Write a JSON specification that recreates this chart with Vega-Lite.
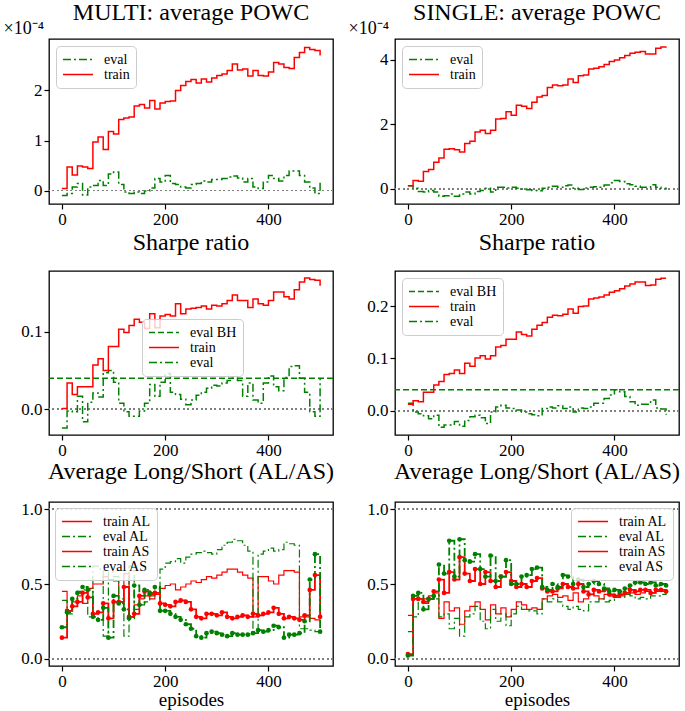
{
"$schema":"https://vega.github.io/schema/vega-lite/v6.json",
"background":"white",
"padding":{"left":2,"top":0,"right":5,"bottom":0},
"bounds":"flush",
"columns":2,
"spacing":{"row":67,"column":62},
"resolve":{"scale":{"color":"independent","strokeDash":"independent"},"legend":{"color":"independent","strokeDash":"independent"}},
"config":{
 "font":"Liberation Serif",
 "view":{"stroke":"#000","strokeWidth":1.3},
 "axis":{"domain":false,"grid":false,"tickColor":"#000","tickWidth":1.2,"tickSize":5,"labelFont":"Liberation Serif","labelFontSize":17,"labelColor":"#000","titleFont":"Liberation Serif","titleFontSize":19,"titleFontWeight":"normal","titleColor":"#000"},
 "axisX":{"labelPadding":2,"labelFlush":false,"titlePadding":1},
 "axisY":{"labelPadding":2},
 "title":{"font":"Liberation Serif","fontSize":24,"fontWeight":"normal","color":"#000","baseline":"alphabetic","offset":16,"frame":"group"},
 "legend":{"labelFont":"Liberation Serif","labelFontSize":14,"labelColor":"#000","symbolType":"stroke","symbolSize":900,"clipHeight":15,"symbolStrokeWidth":1.5,"rowPadding":0,"labelOffset":10,"padding":6,"fillColor":"rgba(255,255,255,0.8)","strokeColor":"#cccccc","cornerRadius":4,"offset":7}
},
"concat":[
{"width":284,"height":165,"title":{"text":"MULTI: average POWC","offset":-6},
"data":{"values":[
{"x":0,"train":0.04e-4,"eval":-0.10e-4},{"x":10,"train":0.47e-4,"eval":-0.06e-4},{"x":20,"train":0.31e-4,"eval":0.07e-4},{"x":30,"train":0.49e-4,"eval":0.14e-4},{"x":40,"train":0.47e-4,"eval":-0.09e-4},{"x":50,"train":0.44e-4,"eval":0.07e-4},{"x":60,"train":0.97e-4,"eval":0.10e-4},{"x":70,"train":1.07e-4,"eval":0.20e-4},{"x":80,"train":0.82e-4,"eval":0.10e-4},{"x":90,"train":1.18e-4,"eval":0.33e-4},{"x":100,"train":1.13e-4,"eval":0.37e-4},{"x":110,"train":1.42e-4,"eval":0.12e-4},{"x":120,"train":1.45e-4,"eval":-0.03e-4},{"x":130,"train":1.47e-4,"eval":-0.06e-4},{"x":140,"train":1.69e-4,"eval":-0.03e-4},{"x":150,"train":1.72e-4,"eval":-0.06e-4},{"x":160,"train":1.65e-4,"eval":-0.01e-4},{"x":170,"train":1.80e-4,"eval":0.05e-4},{"x":180,"train":1.63e-4,"eval":0.24e-4},{"x":190,"train":1.75e-4,"eval":0.17e-4},{"x":200,"train":1.78e-4,"eval":0.30e-4},{"x":210,"train":1.79e-4,"eval":0.14e-4},{"x":220,"train":2.00e-4,"eval":0.12e-4},{"x":230,"train":2.10e-4,"eval":0.07e-4},{"x":240,"train":2.18e-4,"eval":0.05e-4},{"x":250,"train":2.22e-4,"eval":0.12e-4},{"x":260,"train":2.15e-4,"eval":0.14e-4},{"x":270,"train":2.23e-4,"eval":0.19e-4},{"x":280,"train":2.17e-4,"eval":0.17e-4},{"x":290,"train":2.25e-4,"eval":0.22e-4},{"x":300,"train":2.30e-4,"eval":0.22e-4},{"x":310,"train":2.33e-4,"eval":0.24e-4},{"x":320,"train":2.40e-4,"eval":0.27e-4},{"x":330,"train":2.53e-4,"eval":0.29e-4},{"x":340,"train":2.41e-4,"eval":0.25e-4},{"x":350,"train":2.43e-4,"eval":0.17e-4},{"x":360,"train":2.29e-4,"eval":0.24e-4},{"x":370,"train":2.40e-4,"eval":0.07e-4},{"x":380,"train":2.30e-4,"eval":0.04e-4},{"x":390,"train":2.29e-4,"eval":0.17e-4},{"x":400,"train":2.37e-4,"eval":0.30e-4},{"x":410,"train":2.56e-4,"eval":0.24e-4},{"x":420,"train":2.53e-4,"eval":0.19e-4},{"x":430,"train":2.46e-4,"eval":0.30e-4},{"x":440,"train":2.44e-4,"eval":0.39e-4},{"x":450,"train":2.66e-4,"eval":0.39e-4},{"x":460,"train":2.76e-4,"eval":0.30e-4},{"x":470,"train":2.86e-4,"eval":0.17e-4},{"x":480,"train":2.82e-4,"eval":0.05e-4},{"x":490,"train":2.80e-4,"eval":-0.06e-4},{"x":500,"train":2.70e-4,"eval":0.17e-4}
]},
"layer":[
{"mark":{"type":"rule","color":"#808080","strokeDash":[1.5,3],"strokeWidth":1.2},"encoding":{"y":{"datum":0}}},
{"transform":[{"fold":["eval","train"],"as":["s","y"]}],
"mark":{"type":"line","interpolate":"step-after","strokeWidth":1.5},
"encoding":{
"x":{"field":"x","type":"quantitative","scale":{"domain":[-25,525],"nice":false,"zero":false},"axis":{"values":[0,200,400],"title":null}},
"y":{"field":"y","type":"quantitative","scale":{"domain":[-0.27e-4,3.03e-4],"nice":false,"zero":false},"axis":{"values":[0,1e-4,2e-4],"labelExpr":"round(datum.value*10000)","title":"×10⁻⁴","titleAngle":0,"titleAlign":"left","titleBaseline":"alphabetic","titleX":-46,"titleY":-6,"titleFontSize":18}},
"color":{"field":"s","type":"nominal","scale":{"domain":["eval","train"],"range":["#008000","#ff0000"]},"legend":{"orient":"top-left","title":null}},
"strokeDash":{"field":"s","type":"nominal","scale":{"domain":["eval","train"],"range":[[8,3,2,3],[1,0]]},"legend":{"orient":"top-left","title":null}}
}}
]},
{"width":284,"height":165,"title":{"text":"SINGLE: average POWC","offset":-6},
"data":{"values":[
{"x":0,"train":0.09e-4,"eval":0.09e-4},{"x":10,"train":0.25e-4,"eval":0.01e-4},{"x":20,"train":0.23e-4,"eval":-0.09e-4},{"x":30,"train":0.53e-4,"eval":-0.11e-4},{"x":40,"train":0.59e-4,"eval":-0.06e-4},{"x":50,"train":0.82e-4,"eval":-0.11e-4},{"x":60,"train":0.95e-4,"eval":-0.24e-4},{"x":70,"train":1.22e-4,"eval":-0.22e-4},{"x":80,"train":1.24e-4,"eval":-0.17e-4},{"x":90,"train":1.21e-4,"eval":-0.24e-4},{"x":100,"train":1.14e-4,"eval":-0.17e-4},{"x":110,"train":1.40e-4,"eval":-0.11e-4},{"x":120,"train":1.47e-4,"eval":-0.17e-4},{"x":130,"train":1.76e-4,"eval":-0.09e-4},{"x":140,"train":1.81e-4,"eval":-0.06e-4},{"x":150,"train":1.71e-4,"eval":0.01e-4},{"x":160,"train":1.81e-4,"eval":-0.11e-4},{"x":170,"train":2.16e-4,"eval":0.04e-4},{"x":180,"train":2.18e-4,"eval":0.04e-4},{"x":190,"train":2.39e-4,"eval":0.02e-4},{"x":200,"train":2.28e-4,"eval":0.04e-4},{"x":210,"train":2.59e-4,"eval":0.01e-4},{"x":220,"train":2.56e-4,"eval":-0.01e-4},{"x":230,"train":2.49e-4,"eval":-0.04e-4},{"x":240,"train":2.68e-4,"eval":-0.06e-4},{"x":250,"train":2.85e-4,"eval":-0.07e-4},{"x":260,"train":2.89e-4,"eval":0.01e-4},{"x":270,"train":3.14e-4,"eval":0.04e-4},{"x":280,"train":3.22e-4,"eval":0.07e-4},{"x":290,"train":3.20e-4,"eval":0.04e-4},{"x":300,"train":3.22e-4,"eval":0.09e-4},{"x":310,"train":3.41e-4,"eval":0.11e-4},{"x":320,"train":3.30e-4,"eval":0.01e-4},{"x":330,"train":3.51e-4,"eval":-0.03e-4},{"x":340,"train":3.53e-4,"eval":0.02e-4},{"x":350,"train":3.72e-4,"eval":0.04e-4},{"x":360,"train":3.74e-4,"eval":0.06e-4},{"x":370,"train":3.79e-4,"eval":0.04e-4},{"x":380,"train":3.86e-4,"eval":0.11e-4},{"x":390,"train":3.95e-4,"eval":0.18e-4},{"x":400,"train":4.00e-4,"eval":0.25e-4},{"x":410,"train":4.07e-4,"eval":0.22e-4},{"x":420,"train":4.14e-4,"eval":0.15e-4},{"x":430,"train":4.21e-4,"eval":0.12e-4},{"x":440,"train":4.24e-4,"eval":0.07e-4},{"x":450,"train":4.26e-4,"eval":0.04e-4},{"x":460,"train":4.18e-4,"eval":0.04e-4},{"x":470,"train":4.18e-4,"eval":0.12e-4},{"x":480,"train":4.36e-4,"eval":0.04e-4},{"x":490,"train":4.40e-4,"eval":0.01e-4},{"x":500,"train":4.42e-4,"eval":-0.03e-4}
]},
"layer":[
{"mark":{"type":"rule","color":"#808080","strokeDash":[1.5,3],"strokeWidth":1.2},"encoding":{"y":{"datum":0}}},
{"transform":[{"fold":["eval","train"],"as":["s","y"]}],
"mark":{"type":"line","interpolate":"step-after","strokeWidth":1.5},
"encoding":{
"x":{"field":"x","type":"quantitative","scale":{"domain":[-25,525],"nice":false,"zero":false},"axis":{"values":[0,200,400],"title":null}},
"y":{"field":"y","type":"quantitative","scale":{"domain":[-0.48e-4,4.65e-4],"nice":false,"zero":false},"axis":{"values":[0,2e-4,4e-4],"labelExpr":"round(datum.value*10000)","title":"×10⁻⁴","titleAngle":0,"titleAlign":"left","titleBaseline":"alphabetic","titleX":-47,"titleY":-6,"titleFontSize":18}},
"color":{"field":"s","type":"nominal","scale":{"domain":["eval","train"],"range":["#008000","#ff0000"]},"legend":{"orient":"top-left","title":null}},
"strokeDash":{"field":"s","type":"nominal","scale":{"domain":["eval","train"],"range":[[8,3,2,3],[1,0]]},"legend":{"orient":"top-left","title":null}}
}}
]},
{"width":284,"height":164,"title":"Sharpe ratio",
"data":{"values":[
{"x":0,"train":0.001,"eval":-0.024},{"x":10,"train":0.034,"eval":-0.002},{"x":20,"train":0.019,"eval":-0.003},{"x":30,"train":0.029,"eval":0.017},{"x":40,"train":0.029,"eval":-0.016},{"x":50,"train":0.029,"eval":0.009},{"x":60,"train":0.057,"eval":0.021},{"x":70,"train":0.065,"eval":0.016},{"x":80,"train":0.050,"eval":0.047},{"x":90,"train":0.081,"eval":0.050},{"x":100,"train":0.081,"eval":0.035},{"x":110,"train":0.103,"eval":0.008},{"x":120,"train":0.099,"eval":-0.003},{"x":130,"train":0.108,"eval":-0.009},{"x":140,"train":0.116,"eval":-0.009},{"x":150,"train":0.112,"eval":-0.002},{"x":160,"train":0.104,"eval":0.008},{"x":170,"train":0.123,"eval":0.032},{"x":180,"train":0.105,"eval":0.017},{"x":190,"train":0.120,"eval":0.035},{"x":200,"train":0.122,"eval":0.046},{"x":210,"train":0.120,"eval":0.022},{"x":220,"train":0.136,"eval":0.019},{"x":230,"train":0.123,"eval":0.013},{"x":240,"train":0.129,"eval":0.006},{"x":250,"train":0.130,"eval":0.012},{"x":260,"train":0.131,"eval":0.018},{"x":270,"train":0.133,"eval":0.022},{"x":280,"train":0.129,"eval":0.027},{"x":290,"train":0.134,"eval":0.031},{"x":300,"train":0.133,"eval":0.030},{"x":310,"train":0.136,"eval":0.034},{"x":320,"train":0.140,"eval":0.037},{"x":330,"train":0.147,"eval":0.040},{"x":340,"train":0.140,"eval":0.037},{"x":350,"train":0.140,"eval":0.017},{"x":360,"train":0.131,"eval":0.034},{"x":370,"train":0.142,"eval":0.012},{"x":380,"train":0.136,"eval":0.008},{"x":390,"train":0.134,"eval":0.034},{"x":400,"train":0.140,"eval":0.043},{"x":410,"train":0.151,"eval":0.029},{"x":420,"train":0.151,"eval":0.024},{"x":430,"train":0.145,"eval":0.041},{"x":440,"train":0.142,"eval":0.055},{"x":450,"train":0.154,"eval":0.056},{"x":460,"train":0.164,"eval":0.040},{"x":470,"train":0.169,"eval":0.022},{"x":480,"train":0.167,"eval":-0.003},{"x":490,"train":0.166,"eval":-0.009},{"x":500,"train":0.159,"eval":0.039}
]},
"layer":[
{"mark":{"type":"rule","color":"#808080","strokeDash":[1.5,3],"strokeWidth":1.2},"encoding":{"y":{"datum":0}}},
{"data":{"values":[{"s":"eval BH","y":0.040}]},"mark":{"type":"rule","strokeWidth":1.5},"encoding":{"y":{"field":"y","type":"quantitative"},"color":{"field":"s","type":"nominal"},"strokeDash":{"field":"s","type":"nominal"}}},
{"transform":[{"fold":["eval","train"],"as":["s","y"]}],
"mark":{"type":"line","interpolate":"step-after","strokeWidth":1.5},
"encoding":{
"x":{"field":"x","type":"quantitative","scale":{"domain":[-25,525],"nice":false,"zero":false},"axis":{"values":[0,200,400],"title":null}},
"y":{"field":"y","type":"quantitative","scale":{"domain":[-0.033,0.178],"nice":false,"zero":false},"axis":{"values":[0,0.1],"format":".1f","title":null}},
"color":{"field":"s","type":"nominal","scale":{"domain":["eval BH","train","eval"],"range":["#008000","#ff0000","#008000"]},"legend":{"orient":"none","legendX":93,"legendY":48,"title":null}},
"strokeDash":{"field":"s","type":"nominal","scale":{"domain":["eval BH","train","eval"],"range":[[6,3],[1,0],[8,3,2,3]]},"legend":{"orient":"none","legendX":93,"legendY":48,"title":null}}
}}
]},
{"width":284,"height":164,"title":"Sharpe ratio",
"data":{"values":[
{"x":0,"train":0.012,"eval":0.014},{"x":10,"train":0.019,"eval":-0.003},{"x":20,"train":0.017,"eval":-0.006},{"x":30,"train":0.035,"eval":-0.010},{"x":40,"train":0.035,"eval":-0.016},{"x":50,"train":0.049,"eval":-0.009},{"x":60,"train":0.056,"eval":-0.032},{"x":70,"train":0.069,"eval":-0.028},{"x":80,"train":0.071,"eval":-0.028},{"x":90,"train":0.078,"eval":-0.021},{"x":100,"train":0.071,"eval":-0.030},{"x":110,"train":0.091,"eval":-0.019},{"x":120,"train":0.085,"eval":-0.012},{"x":130,"train":0.101,"eval":-0.009},{"x":140,"train":0.105,"eval":-0.014},{"x":150,"train":0.099,"eval":-0.025},{"x":160,"train":0.105,"eval":-0.003},{"x":170,"train":0.122,"eval":0.007},{"x":180,"train":0.125,"eval":0.010},{"x":190,"train":0.137,"eval":0.005},{"x":200,"train":0.137,"eval":0.004},{"x":210,"train":0.151,"eval":0.001},{"x":220,"train":0.146,"eval":-0.003},{"x":230,"train":0.143,"eval":-0.006},{"x":240,"train":0.156,"eval":-0.008},{"x":250,"train":0.164,"eval":-0.010},{"x":260,"train":0.169,"eval":0.004},{"x":270,"train":0.179,"eval":0.007},{"x":280,"train":0.183,"eval":0.005},{"x":290,"train":0.182,"eval":0.009},{"x":300,"train":0.185,"eval":0.004},{"x":310,"train":0.195,"eval":0.007},{"x":320,"train":0.187,"eval":-0.003},{"x":330,"train":0.200,"eval":0.005},{"x":340,"train":0.201,"eval":0.004},{"x":350,"train":0.214,"eval":0.007},{"x":360,"train":0.216,"eval":0.014},{"x":370,"train":0.218,"eval":0.014},{"x":380,"train":0.222,"eval":0.023},{"x":390,"train":0.227,"eval":0.030},{"x":400,"train":0.230,"eval":0.040},{"x":410,"train":0.234,"eval":0.036},{"x":420,"train":0.239,"eval":0.027},{"x":430,"train":0.243,"eval":0.017},{"x":440,"train":0.247,"eval":0.010},{"x":450,"train":0.247,"eval":0.012},{"x":460,"train":0.240,"eval":0.012},{"x":470,"train":0.241,"eval":0.020},{"x":480,"train":0.252,"eval":0.005},{"x":490,"train":0.254,"eval":0.003},{"x":500,"train":0.254,"eval":-0.008}
]},
"layer":[
{"mark":{"type":"rule","color":"#808080","strokeDash":[1.5,3],"strokeWidth":1.2},"encoding":{"y":{"datum":0}}},
{"data":{"values":[{"s":"eval BH","y":0.040}]},"mark":{"type":"rule","strokeWidth":1.5},"encoding":{"y":{"field":"y","type":"quantitative"},"color":{"field":"s","type":"nominal"},"strokeDash":{"field":"s","type":"nominal"}}},
{"transform":[{"fold":["eval","train"],"as":["s","y"]}],
"mark":{"type":"line","interpolate":"step-after","strokeWidth":1.5},
"encoding":{
"x":{"field":"x","type":"quantitative","scale":{"domain":[-25,525],"nice":false,"zero":false},"axis":{"values":[0,200,400],"title":null}},
"y":{"field":"y","type":"quantitative","scale":{"domain":[-0.047,0.268],"nice":false,"zero":false},"axis":{"values":[0,0.1,0.2],"format":".1f","title":null}},
"color":{"field":"s","type":"nominal","scale":{"domain":["eval BH","train","eval"],"range":["#008000","#ff0000","#008000"]},"legend":{"orient":"top-left","title":null}},
"strokeDash":{"field":"s","type":"nominal","scale":{"domain":["eval BH","train","eval"],"range":[[6,3],[1,0],[8,3,2,3]]},"legend":{"orient":"top-left","title":null}}
}}
]},
{"width":284,"height":164,"title":"Average Long/Short (AL/AS)",
"data":{"values":[
{"x":0,"train AL":0.45,"eval AL":0.39,"train AS":0.14,"eval AS":0.21},{"x":10,"train AL":0.32,"eval AL":0.30,"train AS":0.32,"eval AS":0.31},{"x":20,"train AL":0.38,"eval AL":0.40,"train AS":0.35,"eval AS":0.40},{"x":30,"train AL":0.42,"eval AL":0.45,"train AS":0.38,"eval AS":0.44},{"x":40,"train AL":0.37,"eval AL":0.46,"train AS":0.44,"eval AS":0.48},{"x":50,"train AL":0.47,"eval AL":0.28,"train AS":0.41,"eval AS":0.46},{"x":60,"train AL":0.50,"eval AL":0.62,"train AS":0.30,"eval AS":0.28},{"x":70,"train AL":0.50,"eval AL":0.60,"train AS":0.31,"eval AS":0.26},{"x":80,"train AL":0.55,"eval AL":0.15,"train AS":0.37,"eval AS":0.34},{"x":90,"train AL":0.53,"eval AL":0.58,"train AS":0.27,"eval AS":0.14},{"x":100,"train AL":0.52,"eval AL":0.55,"train AS":0.38,"eval AS":0.42},{"x":110,"train AL":0.38,"eval AL":0.40,"train AS":0.38,"eval AS":0.37},{"x":120,"train AL":0.57,"eval AL":0.15,"train AS":0.48,"eval AS":0.33},{"x":130,"train AL":0.28,"eval AL":0.62,"train AS":0.28,"eval AS":0.27},{"x":140,"train AL":0.36,"eval AL":0.33,"train AS":0.30,"eval AS":0.49},{"x":150,"train AL":0.40,"eval AL":0.36,"train AS":0.42,"eval AS":0.36},{"x":160,"train AL":0.42,"eval AL":0.38,"train AS":0.45,"eval AS":0.46},{"x":170,"train AL":0.40,"eval AL":0.42,"train AS":0.43,"eval AS":0.44},{"x":180,"train AL":0.43,"eval AL":0.47,"train AS":0.44,"eval AS":0.48},{"x":190,"train AL":0.47,"eval AL":0.60,"train AS":0.37,"eval AS":0.32},{"x":200,"train AL":0.49,"eval AL":0.64,"train AS":0.36,"eval AS":0.32},{"x":210,"train AL":0.50,"eval AL":0.65,"train AS":0.35,"eval AS":0.30},{"x":220,"train AL":0.46,"eval AL":0.67,"train AS":0.38,"eval AS":0.28},{"x":230,"train AL":0.48,"eval AL":0.64,"train AS":0.39,"eval AS":0.26},{"x":240,"train AL":0.50,"eval AL":0.68,"train AS":0.38,"eval AS":0.23},{"x":250,"train AL":0.52,"eval AL":0.70,"train AS":0.33,"eval AS":0.20},{"x":260,"train AL":0.51,"eval AL":0.71,"train AS":0.28,"eval AS":0.15},{"x":270,"train AL":0.53,"eval AL":0.72,"train AS":0.27,"eval AS":0.14},{"x":280,"train AL":0.55,"eval AL":0.71,"train AS":0.30,"eval AS":0.17},{"x":290,"train AL":0.54,"eval AL":0.70,"train AS":0.30,"eval AS":0.18},{"x":300,"train AL":0.56,"eval AL":0.73,"train AS":0.29,"eval AS":0.17},{"x":310,"train AL":0.58,"eval AL":0.76,"train AS":0.31,"eval AS":0.16},{"x":320,"train AL":0.60,"eval AL":0.78,"train AS":0.28,"eval AS":0.15},{"x":330,"train AL":0.60,"eval AL":0.80,"train AS":0.27,"eval AS":0.17},{"x":340,"train AL":0.58,"eval AL":0.79,"train AS":0.28,"eval AS":0.16},{"x":350,"train AL":0.56,"eval AL":0.76,"train AS":0.29,"eval AS":0.16},{"x":360,"train AL":0.54,"eval AL":0.72,"train AS":0.28,"eval AS":0.16},{"x":370,"train AL":0.28,"eval AL":0.18,"train AS":0.30,"eval AS":0.17},{"x":380,"train AL":0.55,"eval AL":0.70,"train AS":0.29,"eval AS":0.19},{"x":390,"train AL":0.55,"eval AL":0.72,"train AS":0.30,"eval AS":0.18},{"x":400,"train AL":0.52,"eval AL":0.74,"train AS":0.31,"eval AS":0.19},{"x":410,"train AL":0.50,"eval AL":0.72,"train AS":0.34,"eval AS":0.22},{"x":420,"train AL":0.56,"eval AL":0.73,"train AS":0.30,"eval AS":0.21},{"x":430,"train AL":0.59,"eval AL":0.78,"train AS":0.27,"eval AS":0.14},{"x":440,"train AL":0.59,"eval AL":0.77,"train AS":0.28,"eval AS":0.16},{"x":450,"train AL":0.58,"eval AL":0.76,"train AS":0.27,"eval AS":0.16},{"x":460,"train AL":0.28,"eval AL":0.20,"train AS":0.26,"eval AS":0.17},{"x":470,"train AL":0.28,"eval AL":0.20,"train AS":0.29,"eval AS":0.25},{"x":480,"train AL":0.27,"eval AL":0.19,"train AS":0.46,"eval AS":0.53},{"x":490,"train AL":0.26,"eval AL":0.18,"train AS":0.56,"eval AS":0.70},{"x":500,"train AL":0.25,"eval AL":0.17,"train AS":0.28,"eval AS":0.18}
]},
"layer":[
{"mark":{"type":"rule","color":"#808080","strokeDash":[1.5,3],"strokeWidth":1.2},"encoding":{"y":{"datum":0}}},
{"mark":{"type":"rule","color":"#808080","strokeDash":[1.5,3],"strokeWidth":1.2},"encoding":{"y":{"datum":1}}},
{"transform":[{"fold":["train AL","eval AL"],"as":["s","y"]}],
"mark":{"type":"line","interpolate":"step-after","strokeWidth":1.2},
"encoding":{
"x":{"field":"x","type":"quantitative","scale":{"domain":[-25,525],"nice":false,"zero":false},"axis":{"values":[0,200,400],"title":"episodes"}},
"y":{"field":"y","type":"quantitative","scale":{"domain":[-0.05,1.05],"nice":false,"zero":false},"axis":{"values":[0,0.5,1],"format":".1f","title":null}},
"color":{"field":"s","type":"nominal","scale":{"domain":["train AL","eval AL","train AS","eval AS"],"range":["#ff0000","#008000","#ff0000","#008000"]},"legend":{"orient":"top-left","offset":6,"title":null}},
"strokeDash":{"field":"s","type":"nominal","scale":{"domain":["train AL","eval AL","train AS","eval AS"],"range":[[1,0],[8,3,2,3],[1,0],[8,3,2,3]]},"legend":{"orient":"top-left","offset":6,"title":null}}
}},
{"transform":[{"fold":["train AS","eval AS"],"as":["s","y"]}],
"mark":{"type":"line","interpolate":"step-after","strokeWidth":1.8,"point":{"filled":true,"size":22}},
"encoding":{
"x":{"field":"x","type":"quantitative"},
"y":{"field":"y","type":"quantitative"},
"color":{"field":"s","type":"nominal"},
"strokeDash":{"field":"s","type":"nominal"}
}}
]},
{"width":284,"height":164,"title":"Average Long/Short (AL/AS)",
"data":{"values":[
{"x":0,"train AL":0.29,"eval AL":0.18,"train AS":0.03,"eval AS":0.02},{"x":10,"train AL":0.40,"eval AL":0.28,"train AS":0.40,"eval AS":0.42},{"x":20,"train AL":0.40,"eval AL":0.38,"train AS":0.40,"eval AS":0.44},{"x":30,"train AL":0.40,"eval AL":0.37,"train AS":0.38,"eval AS":0.33},{"x":40,"train AL":0.42,"eval AL":0.40,"train AS":0.40,"eval AS":0.40},{"x":50,"train AL":0.44,"eval AL":0.40,"train AS":0.45,"eval AS":0.42},{"x":60,"train AL":0.27,"eval AL":0.28,"train AS":0.53,"eval AS":0.63},{"x":70,"train AL":0.38,"eval AL":0.30,"train AS":0.44,"eval AS":0.57},{"x":80,"train AL":0.32,"eval AL":0.20,"train AS":0.58,"eval AS":0.79},{"x":90,"train AL":0.34,"eval AL":0.27,"train AS":0.53,"eval AS":0.55},{"x":100,"train AL":0.23,"eval AL":0.15,"train AS":0.68,"eval AS":0.80},{"x":110,"train AL":0.32,"eval AL":0.28,"train AS":0.57,"eval AS":0.66},{"x":120,"train AL":0.35,"eval AL":0.30,"train AS":0.52,"eval AS":0.65},{"x":130,"train AL":0.38,"eval AL":0.35,"train AS":0.60,"eval AS":0.70},{"x":140,"train AL":0.33,"eval AL":0.25,"train AS":0.50,"eval AS":0.60},{"x":150,"train AL":0.26,"eval AL":0.20,"train AS":0.58,"eval AS":0.55},{"x":160,"train AL":0.36,"eval AL":0.33,"train AS":0.52,"eval AS":0.69},{"x":170,"train AL":0.30,"eval AL":0.25,"train AS":0.48,"eval AS":0.52},{"x":180,"train AL":0.34,"eval AL":0.30,"train AS":0.55,"eval AS":0.55},{"x":190,"train AL":0.28,"eval AL":0.22,"train AS":0.58,"eval AS":0.66},{"x":200,"train AL":0.33,"eval AL":0.30,"train AS":0.52,"eval AS":0.50},{"x":210,"train AL":0.38,"eval AL":0.35,"train AS":0.48,"eval AS":0.50},{"x":220,"train AL":0.36,"eval AL":0.33,"train AS":0.50,"eval AS":0.55},{"x":230,"train AL":0.33,"eval AL":0.32,"train AS":0.48,"eval AS":0.56},{"x":240,"train AL":0.34,"eval AL":0.32,"train AS":0.52,"eval AS":0.60},{"x":250,"train AL":0.33,"eval AL":0.30,"train AS":0.54,"eval AS":0.61},{"x":260,"train AL":0.40,"eval AL":0.40,"train AS":0.47,"eval AS":0.48},{"x":270,"train AL":0.42,"eval AL":0.38,"train AS":0.45,"eval AS":0.46},{"x":280,"train AL":0.43,"eval AL":0.40,"train AS":0.45,"eval AS":0.50},{"x":290,"train AL":0.41,"eval AL":0.38,"train AS":0.47,"eval AS":0.48},{"x":300,"train AL":0.42,"eval AL":0.35,"train AS":0.50,"eval AS":0.56},{"x":310,"train AL":0.39,"eval AL":0.33,"train AS":0.48,"eval AS":0.55},{"x":320,"train AL":0.44,"eval AL":0.35,"train AS":0.47,"eval AS":0.50},{"x":330,"train AL":0.38,"eval AL":0.33,"train AS":0.50,"eval AS":0.53},{"x":340,"train AL":0.40,"eval AL":0.32,"train AS":0.45,"eval AS":0.48},{"x":350,"train AL":0.43,"eval AL":0.38,"train AS":0.43,"eval AS":0.50},{"x":360,"train AL":0.42,"eval AL":0.38,"train AS":0.46,"eval AS":0.52},{"x":370,"train AL":0.40,"eval AL":0.40,"train AS":0.45,"eval AS":0.50},{"x":380,"train AL":0.43,"eval AL":0.38,"train AS":0.46,"eval AS":0.47},{"x":390,"train AL":0.42,"eval AL":0.39,"train AS":0.43,"eval AS":0.45},{"x":400,"train AL":0.41,"eval AL":0.42,"train AS":0.42,"eval AS":0.46},{"x":410,"train AL":0.42,"eval AL":0.41,"train AS":0.43,"eval AS":0.45},{"x":420,"train AL":0.43,"eval AL":0.43,"train AS":0.44,"eval AS":0.47},{"x":430,"train AL":0.44,"eval AL":0.42,"train AS":0.46,"eval AS":0.49},{"x":440,"train AL":0.43,"eval AL":0.40,"train AS":0.45,"eval AS":0.51},{"x":450,"train AL":0.44,"eval AL":0.41,"train AS":0.46,"eval AS":0.51},{"x":460,"train AL":0.45,"eval AL":0.40,"train AS":0.46,"eval AS":0.50},{"x":470,"train AL":0.44,"eval AL":0.42,"train AS":0.44,"eval AS":0.51},{"x":480,"train AL":0.45,"eval AL":0.42,"train AS":0.46,"eval AS":0.49},{"x":490,"train AL":0.45,"eval AL":0.43,"train AS":0.46,"eval AS":0.50},{"x":500,"train AL":0.46,"eval AL":0.44,"train AS":0.45,"eval AS":0.49}
]},
"layer":[
{"mark":{"type":"rule","color":"#808080","strokeDash":[1.5,3],"strokeWidth":1.2},"encoding":{"y":{"datum":0}}},
{"mark":{"type":"rule","color":"#808080","strokeDash":[1.5,3],"strokeWidth":1.2},"encoding":{"y":{"datum":1}}},
{"transform":[{"fold":["train AL","eval AL"],"as":["s","y"]}],
"mark":{"type":"line","interpolate":"step-after","strokeWidth":1.2},
"encoding":{
"x":{"field":"x","type":"quantitative","scale":{"domain":[-25,525],"nice":false,"zero":false},"axis":{"values":[0,200,400],"title":"episodes"}},
"y":{"field":"y","type":"quantitative","scale":{"domain":[-0.05,1.05],"nice":false,"zero":false},"axis":{"values":[0,0.5,1],"format":".1f","title":null}},
"color":{"field":"s","type":"nominal","scale":{"domain":["train AL","eval AL","train AS","eval AS"],"range":["#ff0000","#008000","#ff0000","#008000"]},"legend":{"orient":"top-right","offset":6,"title":null}},
"strokeDash":{"field":"s","type":"nominal","scale":{"domain":["train AL","eval AL","train AS","eval AS"],"range":[[1,0],[8,3,2,3],[1,0],[8,3,2,3]]},"legend":{"orient":"top-right","offset":6,"title":null}}
}},
{"transform":[{"fold":["train AS","eval AS"],"as":["s","y"]}],
"mark":{"type":"line","interpolate":"step-after","strokeWidth":1.8,"point":{"filled":true,"size":22}},
"encoding":{
"x":{"field":"x","type":"quantitative"},
"y":{"field":"y","type":"quantitative"},
"color":{"field":"s","type":"nominal"},
"strokeDash":{"field":"s","type":"nominal"}
}}
]}
]
}
